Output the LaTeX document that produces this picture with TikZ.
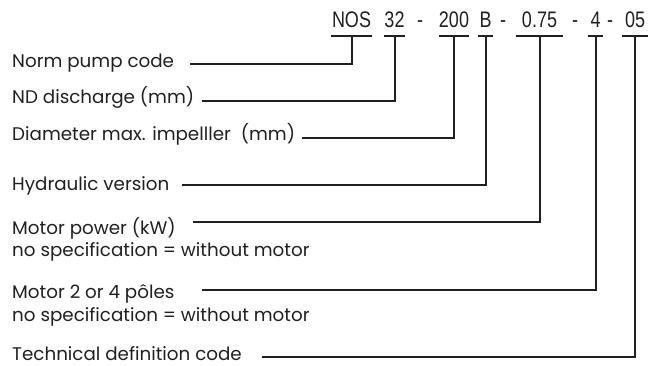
\documentclass[tikz,border=0pt]{standalone}
\usepackage{fontspec}
\setmainfont{Poppins}
\newfontfamily\codefont{Liberation Sans}[FakeStretch=0.8]
\usetikzlibrary{positioning}
\definecolor{inkblack}{HTML}{231F20}

\begin{document}
\begin{tikzpicture}[x=1pt, y=-1pt, text=inkblack,
  font=\fontsize{18.3}{22}\selectfont,
  codepart/.style={font=\codefont\fontsize{22.5}{24}\selectfont, inner sep=0pt, anchor=base},
  desc/.style={anchor=base west, inner sep=0pt},
  leader/.style={draw=inkblack, line width=2pt}]
  \useasboundingbox (0,0) rectangle (652,365);
  % code letters (name/text/centre x/bar width)
  \foreach \n/\t/\x/\w in {nos/NOS/351.5/41, dn/32/394.5/21, imp/200/454/30, hyd/B/485.5/15,
                           kw/0.75/539.5/47, pol/4/595.5/15, tec/05/635/26} {
    \node[codepart, minimum width=\w] (c-\n) at (\x,27) {\t};
    \draw[leader] ([yshift=-9pt]c-\n.base west) -- ([yshift=-9pt]c-\n.base east);
  }
  \foreach \x [count=\i] in {420,503,575,610}
    \node[codepart] (dash-\i) at (\x,27) {-};
  % descriptions (name/text/baseline/leader y/leader start)
  \foreach \n/\t/\b/\y/\s in {nos/Norm pump code/67/64/190,
                              dn/ND discharge (mm)/103/101/202,
                              imp/Diameter max. impelller\ \ (mm)/140/138/302,
                              hyd/Hydraulic version/190/185/182,
                              kw/Motor power (kW)/234/222/193,
                              pol/Motor 2 or 4 pôles/298/290/202,
                              tec/Technical definition code/360/357/262} {
    \node[desc] (d-\n) at (12,\b) {\t};
    \coordinate (s-\n) at (\s,\y);
    \draw[leader] (s-\n) -| ([yshift=-9pt]c-\n.base);
  }
  \node[desc] (note-kw) at (12,256) {no specification = without motor};
  \node[desc] (note-pol) at (12,321) {no specification = without motor};
\end{tikzpicture}
\end{document}
